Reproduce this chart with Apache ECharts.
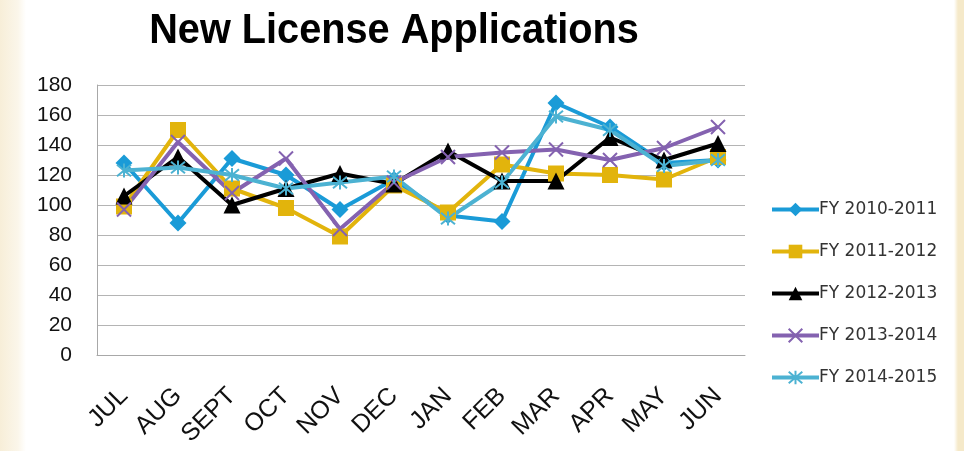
<!DOCTYPE html>
<html>
<head>
<meta charset="utf-8">
<style>
  html, body { margin: 0; padding: 0; }
  body {
    width: 964px; height: 451px; overflow: hidden;
    background: linear-gradient(to right, #f7eed8 0px, #fbf6ea 18px, #ffffff 26px, #ffffff 954px, #f5e9c9 958px);
  }
  #chart { width: 964px; height: 451px; }
</style>
<script src="https://cdn.jsdelivr.net/npm/echarts@6/dist/echarts.min.js"></script>
</head>
<body>
<div id="chart"></div>
<script>
// 月份
var months = ['JUL', 'AUG', 'SEPT', 'OCT', 'NOV', 'DEC', 'JAN', 'FEB', 'MAR', 'APR', 'MAY', 'JUN'];
// 各财年数据
var fy1011 = [128, 88, 131, 120, 97, 117, 93, 89, 168, 152, 128, 130];
var fy1112 = [99, 150, 111, 98, 79, 113, 95, 127, 121, 120, 117, 132];
var fy1213 = [106, 132, 100, 111, 121, 114, 136, 116, 116, 145, 130, 141];
var fy1314 = [97, 142, 108, 131, 84, 115, 132, 135, 137, 130, 138, 152];
var fy1415 = [123, 125, 120, 111, 115, 119, 91, 115, 159, 150, 126, 130];
var seriesNames = ['FY 2010-2011', 'FY 2011-2012', 'FY 2012-2013', 'FY 2013-2014', 'FY 2014-2015'];
var yTicks = [0, 20, 40, 60, 80, 100, 120, 140, 160, 180];

var myChart = echarts.init(document.getElementById('chart'), null, { renderer: 'canvas' });

var crossPath = 'path://M0,0L20,20M20,0L0,20';
var starPath = 'path://M0,0L20,20M20,0L0,20M10,-2L10,22';

function makeSeries(name, data, color, symbol, size, stroked) {
	var s = {
		name: name,
		type: 'line',
		data: data,
		symbol: symbol,
		symbolSize: size,
		showAllSymbol: true,
		lineStyle: { color: color, width: 4 },
		itemStyle: { color: color }
	};
	if (stroked) {
		s.itemStyle = { color: 'rgba(0,0,0,0)', borderColor: color, borderWidth: 2 };
	}
	return s;
}

var option = {
	animation: false,
	graphic: [{
		type: 'text',
		x: 394,
		y: 31,
		scaleX: 0.945,
		style: {
			text: 'New License Applications',
			font: 'bold 42px "Liberation Sans", Arial, sans-serif',
			fill: '#000',
			align: 'center',
			verticalAlign: 'middle'
		}
	}],
	legend: {
		orient: 'vertical',
		left: 765,
		top: 196,
		padding: 5,
		itemWidth: 47,
		itemHeight: 17,
		itemGap: 25,
		data: seriesNames,
		lineStyle: { width: 4 },
		textStyle: { color: '#333', fontSize: 17, fontFamily: '"DejaVu Sans", sans-serif', padding: [0, 0, 0, -5] }
	},
	grid: { left: 97, right: 219, top: 85, bottom: 96, containLabel: false },
	xAxis: {
		type: 'category',
		data: months,
		boundaryGap: true,
		axisTick: { show: false },
		axisLine: { show: true, lineStyle: { color: '#a8a8a8', width: 1 } },
		axisLabel: {
			rotate: 45,
			interval: 0,
			margin: 37,
			color: '#111',
			fontSize: 25,
			fontFamily: '"Liberation Sans", Arial, sans-serif'
		}
	},
	yAxis: {
		type: 'value',
		min: yTicks[0],
		max: yTicks[yTicks.length - 1],
		interval: 20,
		axisTick: { show: false },
		axisLine: { show: true, lineStyle: { color: '#a8a8a8', width: 1 } },
		splitLine: { show: true, lineStyle: { color: '#b4b4b4', width: 1 } },
		axisLabel: {
			margin: 25,
			color: '#111',
			fontSize: 21,
			fontFamily: '"Liberation Sans", Arial, sans-serif'
		}
	},
	series: [
		makeSeries(seriesNames[0], fy1011, '#1a9bd7', 'diamond', 17, false),
		makeSeries(seriesNames[1], fy1112, '#e2b40c', 'rect', 16, false),
		makeSeries(seriesNames[2], fy1213, '#000000', 'triangle', 17, false),
		makeSeries(seriesNames[3], fy1314, '#8462b0', crossPath, 14, true),
		makeSeries(seriesNames[4], fy1415, '#4cb2d2', starPath, 14, true)
	]
};

myChart.setOption(option, true);
</script>
</body>
</html>
